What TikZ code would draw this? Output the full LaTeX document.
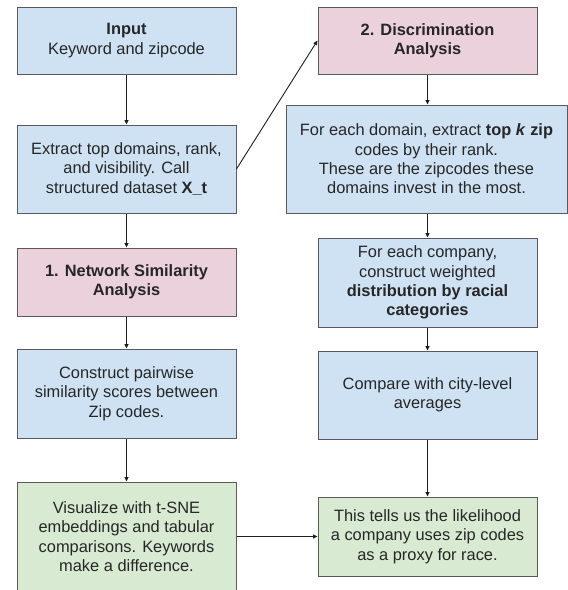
\documentclass[tikz,border=0pt]{standalone}
\usepackage{fontspec}
\setmainfont{Liberation Sans}
\usetikzlibrary{arrows.meta}

\definecolor{boxblue}{RGB}{207,226,243}
\definecolor{boxpink}{RGB}{234,209,220}
\definecolor{boxgreen}{RGB}{217,234,211}
\definecolor{edgegray}{RGB}{90,90,90}
\definecolor{arrowcol}{RGB}{30,30,30}

\tikzset{
  stage/.style={draw=edgegray, line width=1pt, inner sep=0pt, align=center,
    minimum width=219pt, font=\fontsize{16.4}{19.3}\selectfont, text=black!85},
  bluebox/.style={stage, fill=boxblue},
  pinkbox/.style={stage, fill=boxpink},
  greenbox/.style={stage, fill=boxgreen},
  flow/.style={draw=arrowcol, line width=0.9pt,
    -{Triangle[length=4.5pt,width=4pt]}}
}

\begin{document}
\begin{tikzpicture}[x=1pt, y=-1pt]
  \useasboundingbox (0,0) rectangle (568,590);
  \clip (0,0) rectangle (568,590);

  % left column
  \node[bluebox, minimum height=67pt] (inp) at (126.5,40.5)
    {\textbf{Input}\\Keyword and zipcode};
  \node[bluebox, minimum height=88pt] (ext) at (126.5,169)
    {Extract top domains, rank,\\and visibility. Call\\structured dataset \textbf{X\_t}};
  \node[pinkbox, minimum height=68pt] (net) at (126.5,282)
    {\textbf{1. Network Similarity}\\\textbf{Analysis}};
  \node[bluebox, minimum height=89pt] (con) at (126.5,393.5)
    {Construct pairwise\\similarity scores between\\Zip codes.};
  \node[greenbox, minimum height=109pt] (vis) at (126.5,536.5)
    {Visualize with t-SNE\\embeddings and tabular\\comparisons. Keywords\\make a difference.};

  % right column
  \node[pinkbox, minimum height=67pt] (dis) at (427.5,40.5)
    {\textbf{2. Discrimination}\\\textbf{Analysis}};
  \node[bluebox, minimum width=281pt, minimum height=108pt] (dom) at (426.5,159)
    {For each domain, extract \textbf{top \textit{k} zip}\\codes by their rank.\\These are the zipcodes these\\domains invest in the most.};
  \node[bluebox, minimum height=89pt] (com) at (427.5,282.5)
    {For each company,\\construct weighted\\\textbf{distribution by racial}\\\textbf{categories}};
  \node[bluebox, minimum height=88pt] (cmp) at (427.5,395)
    {Compare with city-level\\averages};
  \node[greenbox, minimum height=79pt] (tel) at (427.5,536.5)
    {This tells us the likelihood\\a company uses zip codes\\as a proxy for race.};

  % connectors
  \draw[flow] (inp.south) -- (ext.north);
  \draw[flow] (ext.south) -- (net.north);
  \draw[flow] (net.south) -- (con.north);
  \draw[flow] (con.south) -- (vis.north);
  \draw[flow] (ext.east) -- (dis.west);
  \draw[flow] (dis.south) -- (dis.south |- dom.north);
  \draw[flow] (com.north |- dom.south) -- (com.north);
  \draw[flow] (com.south) -- (cmp.north);
  \draw[flow] (cmp.south) -- (tel.north);
  \draw[flow] (vis.east) -- (tel.west);
\end{tikzpicture}
\end{document}
